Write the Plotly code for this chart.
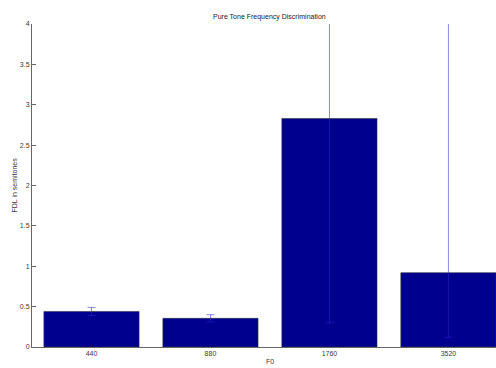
import plotly.graph_objects as go

# Frequency discrimination thresholds per fundamental frequency
f0_labels = ["440", "880", "1760", "3520"]
fdl_semitones = [0.44, 0.355, 2.83, 0.92]
err_upper = [0.05, 0.045, 2.53, 3.3]
err_lower = [0.05, 0.045, 2.53, 0.80]

positions = list(range(1, len(f0_labels) + 1))

font_family = "Liberation Sans Narrow, Liberation Sans, Arial, sans-serif"
text_color = "#3a3a3a"
fsize = 7

fig = go.Figure()
fig.add_trace(go.Bar(
    x=positions,
    y=fdl_semitones,
    width=0.8,
    marker=dict(color="rgb(0,0,143)", line=dict(color="#333344", width=0.6)),
    error_y=dict(
        type="data",
        symmetric=False,
        array=err_upper,
        arrayminus=err_lower,
        color="rgba(40,40,200,0.55)",
        thickness=1,
        width=4,
    ),
    showlegend=False,
))

# Centre of the full category range [0.5, 4.5]
mid_x = (positions[0] + positions[-1]) / 2

fig.add_annotation(
    x=mid_x, xref="x", y=1, yref="paper", yanchor="bottom", yshift=1,
    text="Pure Tone Frequency Discrimination", showarrow=False,
    font=dict(family=font_family, size=fsize, color="#222222"),
)
fig.add_annotation(
    x=mid_x, xref="x", y=0, yref="paper", yanchor="top", yshift=-9,
    text="F0", showarrow=False,
    font=dict(family=font_family, size=fsize, color=text_color),
)
fig.add_annotation(
    x=-18 / 464, xref="paper", y=0.5, yref="paper",
    xanchor="center", yanchor="middle", textangle=-90,
    text="FDL in semitones", showarrow=False,
    font=dict(family=font_family, size=fsize, color=text_color),
)

fig.update_layout(
    width=496,
    height=368,
    margin=dict(l=32, r=0, t=24, b=21),
    paper_bgcolor="white",
    plot_bgcolor="white",
    bargap=0.2,
    font=dict(family=font_family, size=fsize, color=text_color),
    xaxis=dict(
        range=[0.5, 4.4],
        tickmode="array",
        tickvals=positions,
        ticktext=f0_labels,
        showgrid=False,
        zeroline=False,
        showline=True,
        linecolor="#666666",
        linewidth=1,
        ticks="",
        tickfont=dict(family=font_family, size=fsize, color=text_color),
    ),
    yaxis=dict(
        range=[0, 4],
        tickmode="array",
        tickvals=[0, 0.5, 1, 1.5, 2, 2.5, 3, 3.5, 4],
        ticktext=["0", "0.5", "1", "1.5", "2", "2.5", "3", "3.5", "4"],
        showgrid=False,
        zeroline=False,
        showline=True,
        linecolor="#666666",
        linewidth=1,
        ticks="inside",
        ticklen=4,
        tickcolor="#666666",
        tickfont=dict(family=font_family, size=fsize, color=text_color),
    ),
)

fig.write_html("out.html")
